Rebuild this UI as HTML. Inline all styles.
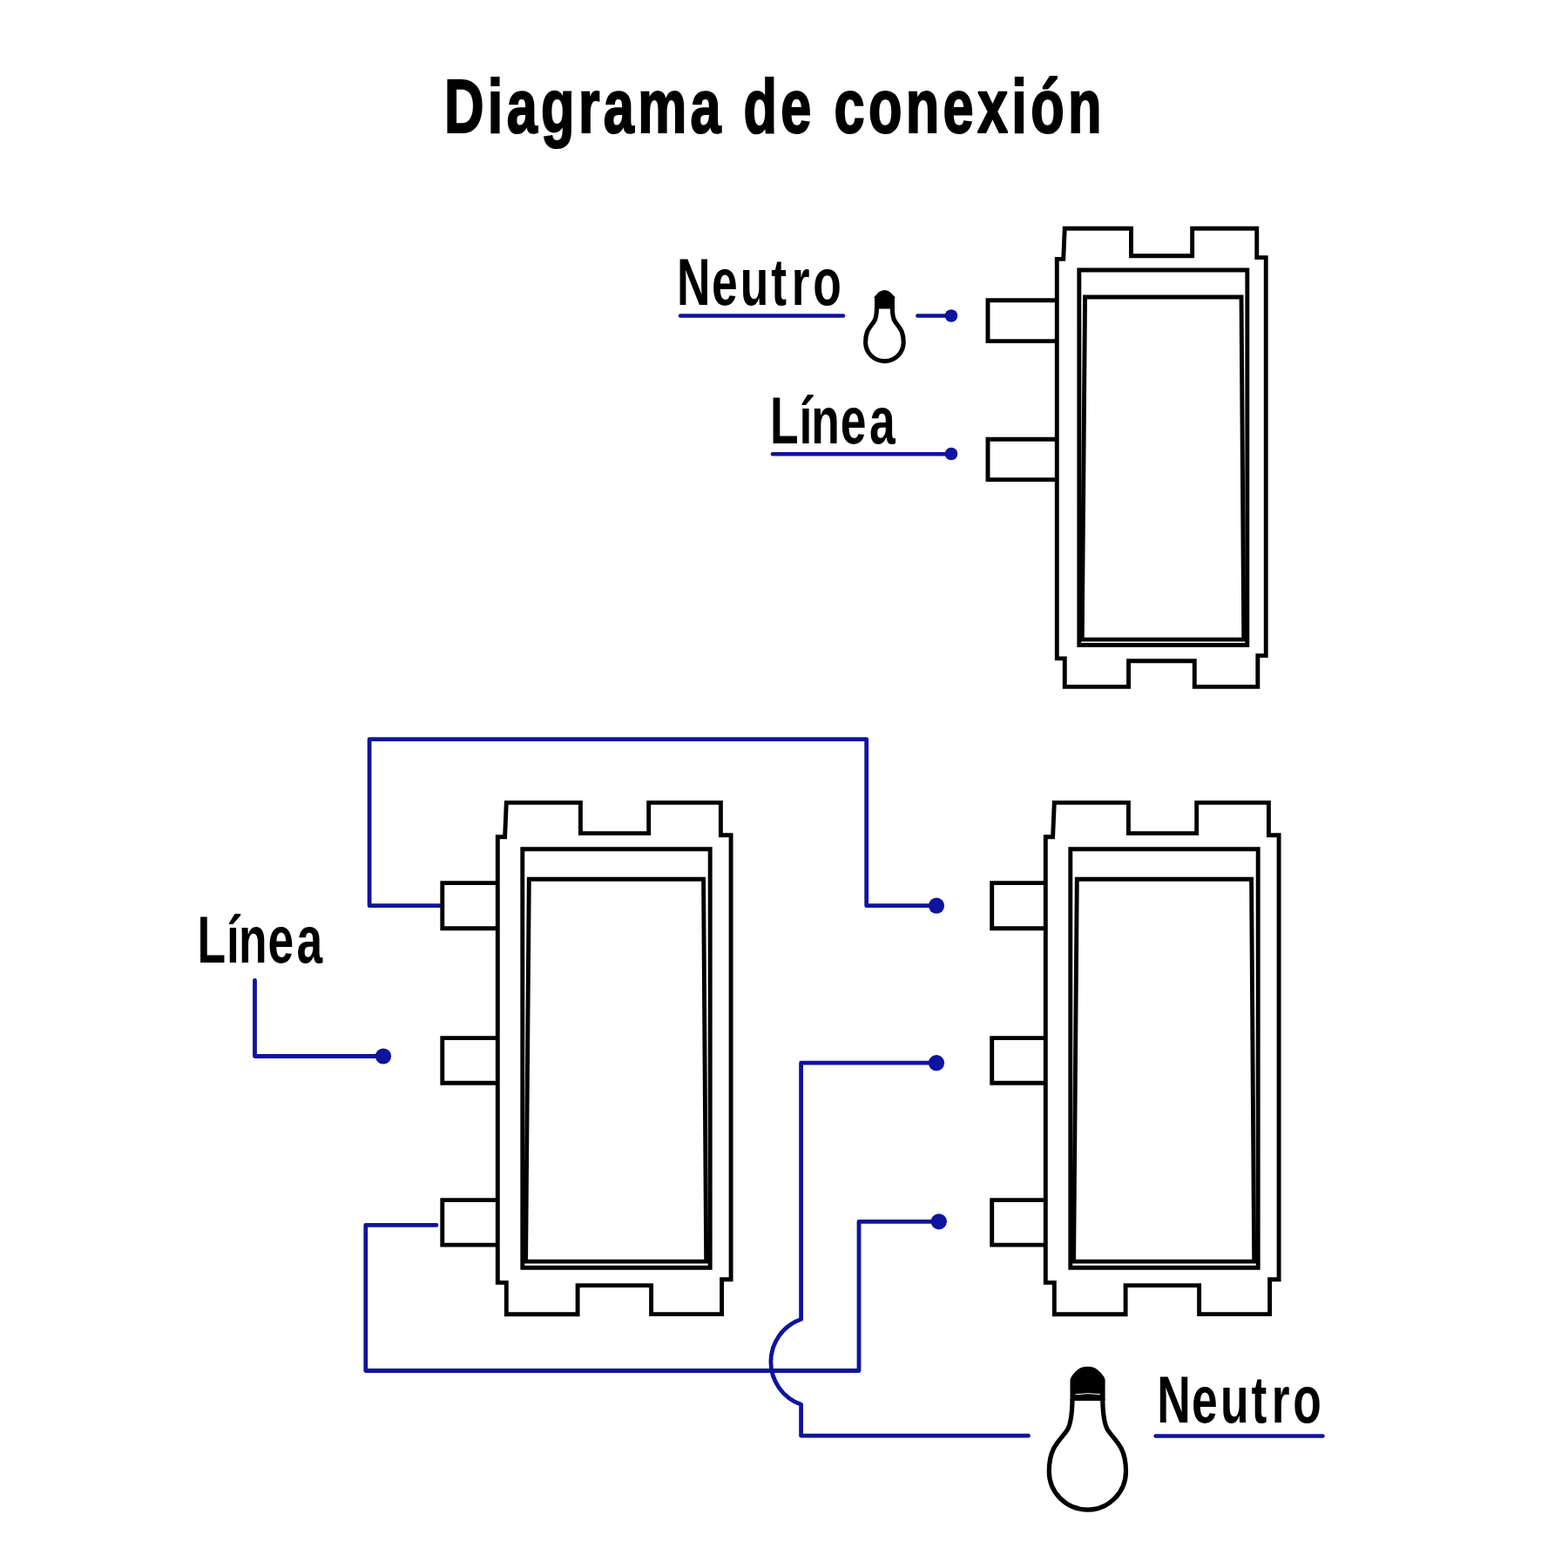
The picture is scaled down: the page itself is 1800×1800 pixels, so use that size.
<!DOCTYPE html>
<html lang="es">
<head>
<meta charset="utf-8">
<title>Diagrama de conexión</title>
<style>
  html, body { margin: 0; padding: 0; background: #ffffff; }
  body { width: 1800px; height: 1800px; overflow: hidden; }
  svg { display: block; }
  text { font-family: "Liberation Sans", sans-serif; fill: #000; }
  .title { font-weight: bold; font-size: 87.6px; letter-spacing: 6px; stroke: #000; stroke-width: 2.2px; stroke-linejoin: miter; stroke-miterlimit: 2; }
  .label { font-weight: bold; font-size: 76.3px; }
  .wire { fill: none; stroke: #0e149e; stroke-width: 4.8; stroke-linecap: round; stroke-linejoin: round; }
  .dot { fill: #0e149e; }
  .sw { fill: none; stroke: #000; stroke-width: 4.9; stroke-linejoin: miter; vector-effect: non-scaling-stroke; }
</style>
</head>
<body>
<svg width="1800" height="1800" viewBox="0 0 1800 1800">
  <rect width="1800" height="1800" fill="#ffffff"/>

  <!-- title -->
  <text class="title" transform="translate(510 152.4) scale(0.72 1)"><tspan x="0">Diagrama</tspan> <tspan x="477.08">de</tspan> <tspan x="621.53">conexión</tspan></text>

  <!-- wires -->
  <path class="wire" d="M508 1039.7 H424.1 V848.7 H994.7 V1039.7 H1075"/>
  <circle class="dot" cx="1075" cy="1039.7" r="9.1"/>
  <path class="wire" d="M1075 1220.2 H919.6 V1514.4 A51.8 51.8 0 0 0 919.6 1612.2 V1648.2 H1180.5"/>
  <circle class="dot" cx="1075" cy="1220.2" r="9.1"/>
  <path class="wire" d="M501 1406.4 H419.8 V1573.5 H986 V1402.3 H1077.8"/>
  <circle class="dot" cx="1077.8" cy="1402.3" r="9.1"/>
  <path class="wire" d="M292.5 1125.3 V1212.5 H440"/>
  <circle class="dot" cx="440" cy="1212.5" r="9.1"/>

  <!-- top switch -->
  <g transform="translate(1213.3 262.2) scale(0.896)">
    <path class="sw" d="M10 0 H95.1 V35.2 H173.4 V0 H256.1 V37.3 H267.8 V547.3 H257.3 V587.2 H176.3 V554.2 H91.8 V587.3 H10 V551 H0 V39.3 H8.3 Z"/>
    <rect class="sw" x="28.5" y="53.3" width="215.4" height="480.6"/>
    <path class="sw" d="M36 87.9 H236.3 L239.4 526.7 H32.3 Z"/>
    <path class="sw" d="M0 92.2 H-88.5 V144.4 H0"/>
    <path class="sw" d="M0 270.2 H-88.5 V321.9 H0"/>
  </g>

  <!-- bottom-left switch -->
  <g transform="translate(571.3 921.4)">
    <path class="sw" d="M10 0 H95.1 V35.2 H173.4 V0 H256.1 V37.3 H267.8 V547.3 H257.3 V587.2 H176.3 V554.2 H91.8 V587.3 H10 V551 H0 V39.3 H8.3 Z"/>
    <rect class="sw" x="28.5" y="53.3" width="215.4" height="480.6"/>
    <path class="sw" d="M36 87.9 H236.3 L239.4 526.7 H32.3 Z"/>
    <path class="sw" d="M0 92.2 H-63.5 V144.4 H0"/>
    <path class="sw" d="M0 270.2 H-63.5 V321.9 H0"/>
    <path class="sw" d="M0 456.2 H-63.5 V507.7 H0"/>
  </g>

  <!-- bottom-right switch -->
  <g transform="translate(1200.3 921.4)">
    <path class="sw" d="M10 0 H95.1 V35.2 H173.4 V0 H256.1 V37.3 H267.8 V547.3 H257.3 V587.2 H176.3 V554.2 H91.8 V587.3 H10 V551 H0 V39.3 H8.3 Z"/>
    <rect class="sw" x="28.5" y="53.3" width="215.4" height="480.6"/>
    <path class="sw" d="M36 87.9 H236.3 L239.4 526.7 H32.3 Z"/>
    <path class="sw" d="M0 92.2 H-61.6 V144.4 H0"/>
    <path class="sw" d="M0 270.2 H-61.6 V321.9 H0"/>
    <path class="sw" d="M0 456.2 H-61.6 V507.7 H0"/>
  </g>

  <!-- top labels -->
  <text class="label" transform="translate(777.1 350) scale(0.7 1)" x="0 57 103.9 154.6 188 222.9">Neutro</text>
  <path class="wire" style="stroke-width:4.5" d="M781 362.6 H968"/>
  <path class="wire" style="stroke-width:4.5" d="M1053.4 362.5 H1092"/>
  <circle class="dot" cx="1092" cy="362.5" r="7.3"/>
  <text class="label" transform="translate(883.9 508.8) scale(0.7 1)" x="0 48 67.7 115.6 163">Línea</text>
  <path class="wire" style="stroke-width:4.5" d="M887 521.2 H1092"/>
  <circle class="dot" cx="1092" cy="521" r="7.3"/>

  <!-- small bulb -->
  <g>
    <path d="M1006.5 353 C1006.4 360 1006.2 365 1003.4 369 C1001 372.5 997.5 376.5 995.5 381 C994.2 384.5 993.6 389 993.6 393 A21.8 21.6 0 0 0 1037.2 393 C1037.2 389 1036.6 384.5 1035.3 381 C1033.3 376.5 1029.8 372.5 1027.4 369 C1024.6 365 1024.4 360 1024.3 353" fill="none" stroke="#000" stroke-width="5.1"/>
    <path d="M1004 354.5 V342 L1003.1 341.6 L1008.5 335.6 Q1015.3 330.5 1022 335.6 L1027.9 341.6 L1027 342 V354.5 Z" fill="#000"/>
  </g>

  <!-- left label -->
  <text class="label" transform="translate(226.5 1105) scale(0.7 1)" x="0 48 67.7 115.6 163">Línea</text>

  <!-- big bulb -->
  <g>
    <path d="M1231.1 1606 C1230.8 1620 1229.5 1634 1225.5 1641 C1222 1647 1214 1654 1209.5 1663 C1206 1670 1204.3 1679 1204.3 1689 A44.1 44.1 0 0 0 1292.5 1689 C1292.5 1679 1290.8 1670 1287.3 1663 C1282.8 1654 1274.8 1647 1271.3 1641 C1267.3 1634 1266 1620 1265.7 1606" fill="none" stroke="#000" stroke-width="5.2"/>
    <path d="M1228.5 1608 V1584 C1229.2 1579.5 1236 1572 1241 1569.9 Q1248.5 1567.8 1256 1569.9 C1261 1572 1267.9 1579.5 1268.6 1584 V1608 Z" fill="#000"/>
    <path d="M1234.5 1600.8 Q1249 1598.6 1263 1600.6" fill="none" stroke="#fff" stroke-width="1"/>
  </g>

  <!-- bottom-right label -->
  <text class="label" transform="translate(1328.2 1632.9) scale(0.7 1)" x="0 57 103.9 154.6 188 222.9">Neutro</text>
  <path class="wire" style="stroke-width:4.5" d="M1326.6 1648.4 H1518.5"/>
</svg>
</body>
</html>
